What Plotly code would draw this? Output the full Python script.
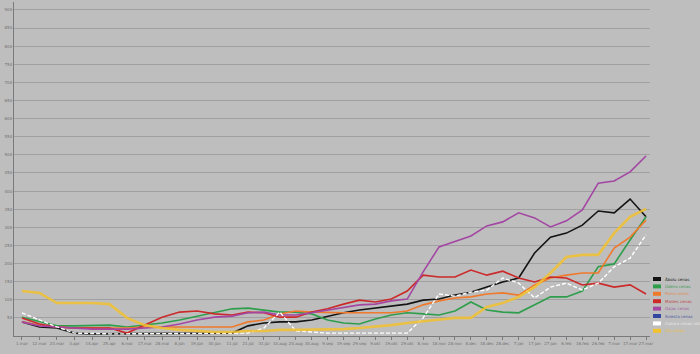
import plotly.graph_objects as go
from datetime import datetime, timedelta

dates = ["2011-03-01", "2011-03-12", "2011-03-23", "2011-04-03", "2011-04-14", "2011-04-25",
         "2011-05-06", "2011-05-17", "2011-05-28", "2011-06-08", "2011-06-19", "2011-06-30",
         "2011-07-11", "2011-07-21", "2011-07-31", "2011-08-10", "2011-08-20", "2011-08-30",
         "2011-09-09", "2011-09-19", "2011-09-29", "2011-10-09", "2011-10-19", "2011-10-29",
         "2011-11-08", "2011-11-18", "2011-11-28", "2011-12-08", "2011-12-18", "2011-12-28",
         "2012-01-07", "2012-01-17", "2012-01-27", "2012-02-06", "2012-02-16", "2012-02-26",
         "2012-03-07", "2012-03-17", "2012-03-27"]

tick_labels = ["1.mar", "12.mar", "23.mar", "3.apr", "14.apr", "25.apr", "6.mai", "17.mai",
               "28.mai", "8.jūn", "19.jūn", "30.jūn", "11.jūl", "21.jūl", "31.jūl", "10.aug",
               "20.aug", "30.aug", "9.sep", "19.sep", "29.sep", "9.okt", "19.okt", "29.okt",
               "8.nov", "18.nov", "28.nov", "8.dec", "18.dec", "28.dec", "7.jan", "17.jan",
               "27.jan", "6.feb", "16.feb", "26.feb", "7.mar", "17.mar", "27.mar"]

names = ["Ābolu cenas", "Ūdens cenas", "Piena cenas", "Maizes cenas", "Gaļas cenas",
         "Sviesta cenas", "Cukura cenas vid.", "Olu cenas"]

black = [39, 25, 22, 8, 6, 6, 6, 6, 6, 6, 6, 6, 8, 28, 36, 39, 39, 44, 55, 64, 72, 77, 83, 88,
         99, 102, 113, 121, 135, 149, 160, 229, 273, 284, 306, 345, 340, 378, 329]
green = [52, 39, 28, 28, 30, 30, 25, 30, 36, 44, 55, 64, 75, 77, 72, 66, 66, 61, 44, 36, 33, 47,
         58, 64, 61, 58, 69, 94, 72, 66, 64, 86, 108, 108, 124, 191, 199, 265, 329]
orange = [39, 30, 25, 22, 22, 22, 22, 25, 25, 25, 25, 25, 25, 39, 44, 61, 69, 66, 64, 64, 64, 64,
          64, 69, 86, 97, 105, 108, 116, 119, 113, 141, 160, 168, 174, 174, 243, 273, 320]
red = [50, 33, 25, 22, 22, 22, 8, 30, 52, 66, 69, 61, 58, 66, 64, 52, 52, 66, 75, 88, 99, 94, 102,
       124, 168, 163, 163, 182, 168, 179, 160, 149, 163, 160, 141, 146, 135, 141, 116]
purple = [39, 28, 25, 22, 19, 19, 19, 22, 25, 33, 44, 52, 55, 64, 66, 58, 58, 64, 72, 80, 86, 88,
          97, 102, 177, 246, 260, 276, 304, 315, 340, 326, 301, 318, 348, 422, 428, 453, 497]
blue = [None] * len(dates)
white = [64, 44, 25, 8, 6, 6, 6, 6, 6, 6, 6, 6, 6, 8, 22, 66, 14, 11, 8, 8, 8, 8, 8, 8, 50, 116,
         110, 121, 127, 160, 146, 105, 135, 146, 127, 146, 191, 215, 279]
yellow = [124, 119, 91, 91, 91, 88, 50, 30, 22, 17, 14, 11, 11, 14, 14, 17, 17, 17, 19, 19, 22, 25,
          30, 36, 41, 44, 50, 50, 80, 91, 108, 135, 174, 218, 224, 224, 284, 329, 351]

series = [black, green, orange, red, purple, blue, white, yellow]
colors = ["#141414", "#2f9e4c", "#f07a2c", "#cc2a2a", "#a347a3", "#3346a0", "#ffffff", "#f2c230"]
widths = [1.6, 1.6, 1.6, 1.6, 1.6, 1.6, 1.4, 2.6]
dashes = ["solid", "solid", "solid", "solid", "solid", "solid", "4px,2px", "solid"]
text_colors = ["#222222", "#3c9a55", "#e08a55", "#c04848", "#a060a0", "#4a58a0", "#e8e8e8", "#e8c040"]

fig = go.Figure()
for nm, ys, c, w, d in zip(names, series, colors, widths, dashes):
    fig.add_trace(go.Scatter(x=dates, y=ys, name=nm, mode="lines",
                             line=dict(color=c, width=w, dash=d),
                             opacity=0.85 if c == "#f2c230" else 1.0))

W, H = 700, 354
L, R, T, B = 14, 50, 2, 18
pw, ph = W - L - R, H - T - B


def px_x(px):
    return (px - L) / pw


def px_y(py):
    return (H - B - py) / ph


shapes = []
annotations = []
leg_top = 279
leg_step = 7.4
for k, (nm, c, tc) in enumerate(zip(names, colors, text_colors)):
    yc = leg_top + k * leg_step
    shapes.append(dict(type="line", xref="paper", yref="paper",
                       x0=px_x(653), x1=px_x(661), y0=px_y(yc), y1=px_y(yc),
                       line=dict(color=c, width=4)))
    annotations.append(dict(xref="paper", yref="paper", x=px_x(663), y=px_y(yc),
                            text=nm, showarrow=False, xanchor="left", yanchor="middle",
                            font=dict(size=4, color=tc, family="DejaVu Sans")))

d0 = datetime.strptime(dates[0], "%Y-%m-%d")
dn = datetime.strptime(dates[-1], "%Y-%m-%d")

fig.update_layout(
    width=W, height=H,
    margin=dict(l=L, r=R, t=T, b=B),
    paper_bgcolor="#bebebe", plot_bgcolor="#bebebe",
    showlegend=False,
    shapes=shapes, annotations=annotations,
    font=dict(family="DejaVu Sans", size=4, color="#6e6e6e"),
    xaxis=dict(type="date",
               range=[d0 - timedelta(days=5), dn + timedelta(days=2.5)],
               tickvals=dates, ticktext=tick_labels, tickangle=0,
               tickfont=dict(size=4, color="#6e6e6e"),
               ticks="outside", ticklen=3, tickcolor="#7a7a7a",
               showline=True, linecolor="#7a7a7a", linewidth=1,
               showgrid=False, zeroline=False),
    yaxis=dict(range=[0, 922], tickvals=list(range(50, 901, 50)),
               tickfont=dict(size=4, color="#6e6e6e"),
               showgrid=True, gridcolor="#a0a0a0", gridwidth=1,
               showline=True, linecolor="#7a7a7a", linewidth=1,
               zeroline=False, ticks=""),
)

fig.write_html("out.html")
